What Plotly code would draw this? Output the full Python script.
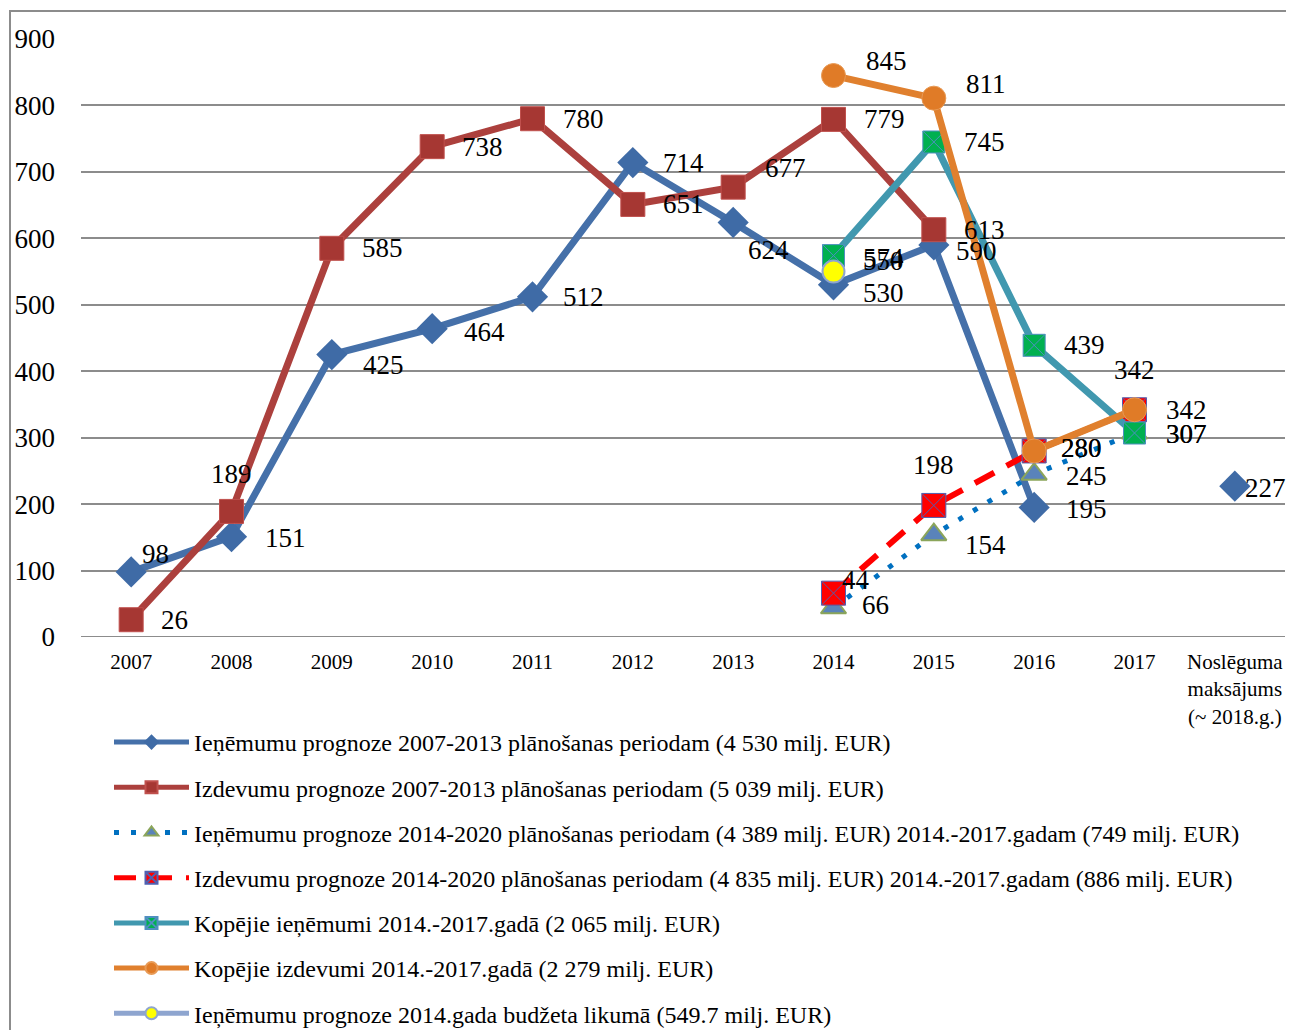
import plotly.graph_objects as go

categories = ["2007", "2008", "2009", "2010", "2011", "2012", "2013", "2014", "2015", "2016", "2017",
              "Noslēguma<br>maksājums<br>(~ 2018.g.)"]

rev_0713 = [98, 151, 425, 464, 512, 714, 624, 530, 590, 195, None, 227]
exp_0713 = [26, 189, 585, 738, 780, 651, 677, 779, 613, None, None, None]
rev_1420 = [None, None, None, None, None, None, None, 44, 154, 245, 307, None]
exp_1420 = [None, None, None, None, None, None, None, 66, 198, 280, 342, None]
rev_total = [None, None, None, None, None, None, None, 574, 745, 439, 307, None]
exp_total = [None, None, None, None, None, None, None, 845, 811, 280, 342, None]
rev_budget = [None, None, None, None, None, None, None, 550, None, None, None, None]

names = [
    "Ieņēmumu prognoze 2007-2013 plānošanas periodam (4 530 milj. EUR)",
    "Izdevumu prognoze 2007-2013 plānošanas periodam (5 039 milj. EUR)",
    "Ieņēmumu prognoze 2014-2020 plānošanas periodam (4 389 milj. EUR) 2014.-2017.gadam (749 milj. EUR)",
    "Izdevumu prognoze 2014-2020 plānošanas periodam (4 835 milj. EUR) 2014.-2017.gadam (886 milj. EUR)",
    "Kopējie ieņēmumi 2014.-2017.gadā (2 065 milj. EUR)",
    "Kopējie izdevumi 2014.-2017.gadā (2 279 milj. EUR)",
    "Ieņēmumu prognoze 2014.gada budžeta likumā (549.7 milj. EUR)",
]

yticks = [0, 100, 200, 300, 400, 500, 600, 700, 800, 900]

FONT = "Liberation Serif, Times New Roman, serif"

series = [rev_0713, exp_0713, rev_1420, exp_1420, rev_total, exp_total, rev_budget]

styles = [
    dict(line=dict(color="#4570A9", width=7), marker=dict(symbol="diamond", size=24, color="#3F6BA6",
                                                         line=dict(color="#3F6BA6", width=0))),
    dict(line=dict(color="#AC403D", width=7), marker=dict(symbol="square", size=24, color="#A63733",
                                                         line=dict(color="#C0504D", width=1))),
    dict(line=dict(color="#0070C0", width=5, dash="5px,12px"),
         marker=dict(symbol="triangle-up", size=22, color="#5A83BA", line=dict(color="#8BA55A", width=2))),
    dict(line=dict(color="#FF0000", width=6, dash="22px,14px"),
         marker=dict(symbol="square-x", size=24, color="#FF0000", line=dict(color="#5060B0", width=1))),
    dict(line=dict(color="#4198AF", width=7),
         marker=dict(symbol="square-x", size=22, color="#00B050", line=dict(color="#4F8FC0", width=1))),
    dict(line=dict(color="#E0802E", width=7),
         marker=dict(symbol="circle", size=24, color="#E07B27", line=dict(color="#E89A55", width=1))),
    dict(line=dict(color="#8EA5CF", width=7),
         marker=dict(symbol="circle", size=22, color="#FFFF00", line=dict(color="#8EA5CF", width=2))),
]

# label placement (xanchor, xshift px, yshift px) per point; default right of marker
DEF = ("left", 28, 0)
label_pos = [
    {0: ("left", 9, 18), 1: ("left", 31, -1), 2: ("left", 29, -10), 3: ("left", 30, -3),
     6: ("left", 13, -28), 7: ("left", 27, -8), 8: ("left", 20, -6), 9: ("left", 30, -2),
     11: ("left", 8, -2)},
    {1: ("center", 0, 37), 6: ("left", 30, 19)},
    {7: ("left", 6, 28), 8: ("left", 29, -10), 9: ("left", 30, -2), 10: ("left", 29, -1)},
    {7: ("left", 26, -12), 8: ("center", 0, 40), 9: ("left", 25, 3), 10: ("center", 0, 40)},
    {7: ("left", 27, -2), 10: ("left", 29, -1)},
    {7: ("left", 30, 15), 8: ("left", 30, 14), 9: ("left", 25, 3), 10: ("left", 29, 0)},
    {7: ("left", 27, 11)},
]

fig = go.Figure()
annotations = []
for i, (vals, st, nm) in enumerate(zip(series, styles, names)):
    fig.add_trace(go.Scatter(
        x=categories, y=vals, mode="lines+markers", name=nm,
        line=st["line"], marker=st["marker"], connectgaps=False,
        legendgroup=f"g{i}", cliponaxis=False,
    ))
    for j, v in enumerate(vals):
        if v is None:
            continue
        xa, dx, dy = label_pos[i].get(j, DEF)
        annotations.append(dict(
            x=j, y=v, text=str(v), showarrow=False, xanchor=xa, yanchor="middle",
            xshift=dx, yshift=dy, font=dict(family=FONT, size=27, color="black"),
        ))

# page has an 8px body margin; canvas sized to the visible area
W, H = 1278, 1022
L, R, T, B = 73, 1, 31, 393
pw = W - L - R
ph = H - T - B

fig.update_layout(
    width=W, height=H,
    margin=dict(l=L, r=R, t=T, b=B, autoexpand=False),
    paper_bgcolor="white", plot_bgcolor="white",
    font=dict(family=FONT, color="black"),
    annotations=annotations,
    showlegend=True,
    legend=dict(
        xref="container", yref="container", x=101 / W, y=1 - 712 / H, xanchor="left", yanchor="top",
        font=dict(family=FONT, size=24, color="black"),
        traceorder="grouped", tracegroupgap=11, itemwidth=75, itemsizing="constant",
        bgcolor="rgba(0,0,0,0)",
    ),
    xaxis=dict(
        type="category", categoryorder="array", categoryarray=categories,
        range=[-0.5, len(categories) - 0.5], showgrid=False, zeroline=False,
        showline=False, ticks="", tickangle=0, ticklabelstandoff=10,
        tickfont=dict(family=FONT, size=21, color="black"),
    ),
    yaxis=dict(
        range=[0, 900], tickvals=yticks, ticktext=[str(t) for t in yticks],
        showgrid=True, gridcolor="#8C8C8C", gridwidth=2, zeroline=False, showline=False,
        ticks="", ticklabelstandoff=25,
        tickfont=dict(family=FONT, size=27, color="black"),
    ),
    shapes=[
        dict(type="rect", xref="paper", yref="paper",
             x0=(2 - L) / pw, x1=(W + 20 - L) / pw,
             y0=(T + ph - (H + 20)) / ph, y1=(T + ph - 3) / ph,
             line=dict(color="#8C8C8C", width=2), fillcolor="rgba(0,0,0,0)", layer="below"),
        dict(type="line", xref="paper", yref="y", x0=0, x1=1, y0=0, y1=0,
             line=dict(color="#8C8C8C", width=2), layer="below"),
    ],
)

fig.write_html("out.html")
